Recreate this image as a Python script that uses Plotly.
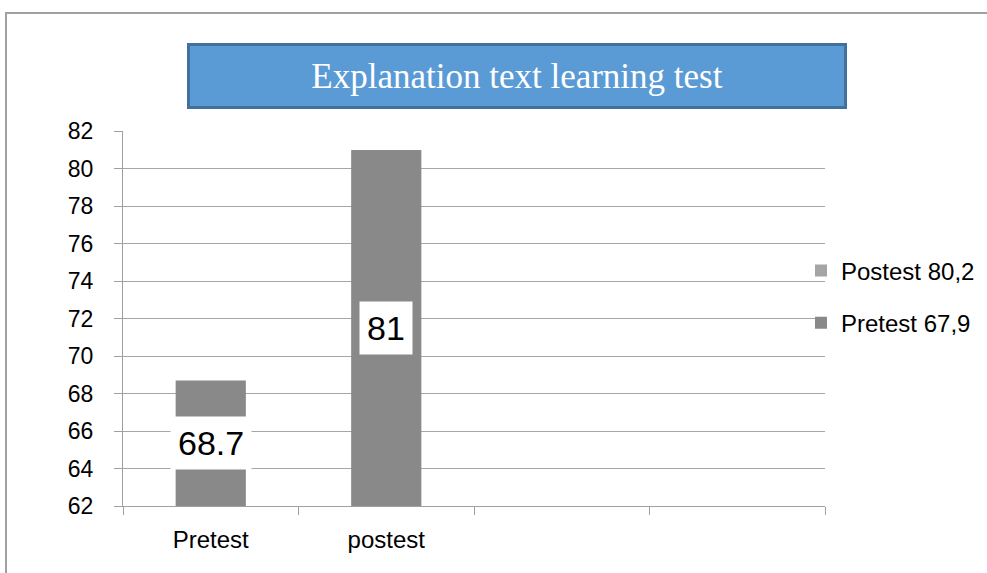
import plotly.graph_objects as go

categories = ["Pretest", "postest", " ", "  "]
pretest_values = [68.7, 81, None, None]
postest_values = [None, None, None, None]
series_names = ["Pretest 67,9", "Postest 80,2"]
label_texts = ["68.7", "81"]
title_text = "Explanation text learning test"
y_ticks = list(range(62, 83, 2))

Y_MIN, Y_MAX = 62, 82
W, H = 987, 573
L, R, T, B = 123, 162, 131, 67
PW, PH = W - L - R, H - T - B
X0, Y1 = L, H - B  # page pixel position of plot area left/bottom

def px_x(px):
    return (px - X0) / PW

def px_y(py):
    return (Y1 - py) / PH

fig = go.Figure()
fig.add_trace(go.Bar(
    x=categories, y=postest_values, name=series_names[1],
    marker=dict(color="#a5a5a5", line=dict(width=0)),
    width=0.4, legendgroup="b",
))
fig.add_trace(go.Bar(
    x=categories, y=pretest_values, name=series_names[0],
    marker=dict(color="#898989", line=dict(width=0)),
    width=0.4, legendgroup="a",
))

annotations = []
for cat, v, t in zip(categories, pretest_values, label_texts):
    if v is None:
        continue
    annotations.append(dict(
        x=cat, y=(Y_MIN + v) / 2, xref="x", yref="y",
        text=t, showarrow=False, bgcolor="white",
        font=dict(family="Liberation Sans", size=34, color="black"),
        borderpad=7, xanchor="center", yanchor="middle",
    ))

annotations.append(dict(
    x=px_x(517), y=px_y(75.5), xref="paper", yref="paper",
    text=title_text, showarrow=False,
    font=dict(family="Liberation Serif", size=35, color="white"),
    bgcolor="#5b9bd5", bordercolor="#41719c", borderwidth=3,
    width=654, height=60, borderpad=0,
    xanchor="center", yanchor="middle",
))

fig.update_layout(
    width=W, height=H,
    margin=dict(l=L, r=R, t=T, b=B, autoexpand=False),
    paper_bgcolor="white", plot_bgcolor="white",
    barmode="overlay",
    showlegend=True,
    legend=dict(
        x=px_x(801), y=px_y(297), xanchor="left", yanchor="middle",
        traceorder="grouped", tracegroupgap=18,
        font=dict(family="Liberation Sans", size=24, color="black"),
        bgcolor="rgba(0,0,0,0)",
    ),
    annotations=annotations,
    shapes=[dict(
        type="rect", xref="paper", yref="paper",
        x0=px_x(6), y0=px_y(13), x1=px_x(1100), y1=px_y(700),
        line=dict(color="#a0a0a0", width=2), layer="below",
    )],
    font=dict(family="Liberation Sans", size=24, color="black"),
)

fig.update_xaxes(
    type="category", categoryorder="array", categoryarray=categories,
    range=[-0.5, 3.5], tickson="boundaries", ticks="outside", ticklen=8,
    tickcolor="#a0a0a0", showgrid=False, showline=True, linecolor="#a0a0a0",
    linewidth=1, tickfont=dict(family="Liberation Sans", size=24, color="black"),
    ticklabelstandoff=12, fixedrange=True,
)
fig.update_yaxes(
    range=[Y_MIN, Y_MAX + 0.02], tickvals=y_ticks, ticks="outside", ticklen=8,
    tickcolor="#a0a0a0", showgrid=True, gridcolor="#a6a6a6", gridwidth=1,
    showline=True, linecolor="#a0a0a0", linewidth=1, zeroline=False,
    tickfont=dict(family="Liberation Sans", size=23, color="black"),
    ticklabelstandoff=16,
)

fig.write_html(
    "out.html",
    config={"displayModeBar": False},
    post_script="document.body.style.margin='0px';document.body.style.overflow='hidden';",
)
